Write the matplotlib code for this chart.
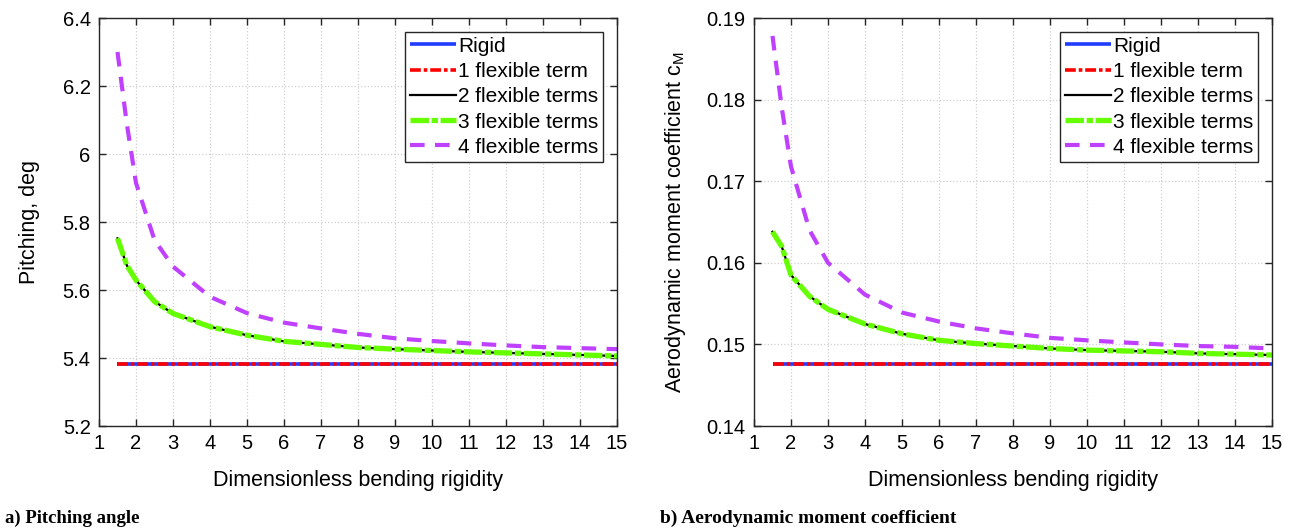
import matplotlib
matplotlib.use("Agg")
import matplotlib.pyplot as plt
from matplotlib.ticker import FixedLocator, FixedFormatter

plt.rcParams['font.family'] = ['Liberation Sans', 'DejaVu Sans']

# ---------------- data ----------------
x_rigid = [1.5, 15]
x = [1.5, 1.75, 2, 2.5, 3, 4, 5, 6, 7, 8, 9, 10, 11, 12, 13, 14, 15]

pitch_rigid = [5.381, 5.381]
pitch_flex1 = [5.381, 5.381]
pitch_flex2 = [5.752, 5.673, 5.629, 5.566, 5.531, 5.492, 5.467, 5.449, 5.440,
               5.431, 5.426, 5.422, 5.418, 5.415, 5.412, 5.409, 5.406]
pitch_flex3 = pitch_flex2
pitch_flex4 = [6.300, 6.090, 5.915, 5.747, 5.669, 5.580, 5.532, 5.504, 5.487,
               5.471, 5.458, 5.450, 5.443, 5.437, 5.432, 5.429, 5.426]

cm_rigid = [0.14755, 0.14755]
cm_flex1 = [0.14755, 0.14755]
cm_flex2 = [0.1638, 0.1620, 0.1585, 0.1559, 0.1543, 0.1525, 0.1513, 0.1505,
            0.1501, 0.1498, 0.1495, 0.1493, 0.1492, 0.1491, 0.1489, 0.1488, 0.1487]
cm_flex3 = cm_flex2
cm_flex4 = [0.1878, 0.1790, 0.1718, 0.1640, 0.1600, 0.1561, 0.1539, 0.1528,
            0.15196, 0.15135, 0.1508, 0.1505, 0.15024, 0.1500, 0.1498, 0.1497, 0.1495]

labels = ["Rigid", "1 flexible term", "2 flexible terms", "3 flexible terms", "4 flexible terms"]
x_ticks = list(range(1, 16))
pitch_ticks = [5.2, 5.4, 5.6, 5.8, 6.0, 6.2, 6.4]
pitch_ticklabels = ["5.2", "5.4", "5.6", "5.8", "6", "6.2", "6.4"]
cm_ticks = [0.14, 0.15, 0.16, 0.17, 0.18, 0.19]
cm_ticklabels = ["0.14", "0.15", "0.16", "0.17", "0.18", "0.19"]

C_BLUE = "#1f3cff"
C_RED = "#ff0000"
C_BLACK = "#000000"
C_GREEN = "#66ff00"
C_PURPLE = "#bf40ff"

fig = plt.figure(figsize=(12.95, 5.30), dpi=100)
ax1 = fig.add_axes([99/1295, 104/530, 518/1295, 408/530])
ax2 = fig.add_axes([754/1295, 104/530, 518/1295, 408/530])

FS_TICK = 14.5
FS_LAB = 15.5
FS_LEG = 15

def draw(ax, rig, f1, f2, f3, f4, yticks, yticklabels, ylim, ylabel, ylabelpad):
    ax.plot(x_rigid, rig, color=C_BLUE, lw=2.6, solid_capstyle='butt', label=labels[0])
    ax.plot(x_rigid, f1, color=C_RED, lw=2.6, ls=(0, (3, 0.8, 1, 0.8)), label=labels[1])
    ax.plot(x, f2, color=C_BLACK, lw=1.6, label=labels[2])
    ax.plot(x, f3, color=C_GREEN, lw=3.8, ls=(0, (3.5, 0.5, 1.2, 0.5)), label=labels[3])
    ax.plot(x, f4, color=C_PURPLE, lw=3.0, ls=(0, (3.5, 2.5)), label=labels[4])
    ax.set_xlim(1, 15)
    ax.set_ylim(*ylim)
    ax.xaxis.set_major_locator(FixedLocator(x_ticks))
    ax.set_xticklabels([str(t) for t in x_ticks])
    ax.yaxis.set_major_locator(FixedLocator(yticks))
    ax.yaxis.set_major_formatter(FixedFormatter(yticklabels))
    ax.tick_params(direction='in', top=True, right=True, length=5, width=1.0,
                   labelsize=FS_TICK, colors='#262626', labelcolor='black', pad=6)
    ax.grid(True, ls=':', color='#d0d0d0', lw=0.9)
    for s in ax.spines.values():
        s.set_color('#262626')
        s.set_linewidth(1.0)
    ax.set_xlabel("Dimensionless bending rigidity", fontsize=FS_LAB, labelpad=12)
    ax.set_ylabel(ylabel, fontsize=FS_LAB, labelpad=ylabelpad)
    leg = ax.legend(loc='upper right', fontsize=FS_LEG, frameon=True, fancybox=False,
                    borderpad=0.25, labelspacing=0.3, handlelength=2.2,
                    handletextpad=0.1, borderaxespad=0.65)
    leg.get_frame().set_edgecolor('#262626')
    leg.get_frame().set_linewidth(1.0)
    leg.get_frame().set_alpha(1.0)

draw(ax1, pitch_rigid, pitch_flex1, pitch_flex2, pitch_flex3, pitch_flex4,
     pitch_ticks, pitch_ticklabels, (5.2, 6.4), "Pitching, deg", 16)
draw(ax2, cm_rigid, cm_flex1, cm_flex2, cm_flex3, cm_flex4,
     cm_ticks, cm_ticklabels, (0.14, 0.19), "Aerodynamic moment coefficient c$_\\mathregular{M}$", 13)

fig.text(5/1295, 1 - 518/530, "a) Pitching angle", fontsize=13.5, fontweight='bold',
         family='Liberation Serif', va='center', ha='left')
fig.text(660/1295, 1 - 518/530, "b) Aerodynamic moment coefficient", fontsize=14,
         fontweight='bold', family='Liberation Serif', va='center', ha='left')

fig.savefig("out.png", dpi=100)
